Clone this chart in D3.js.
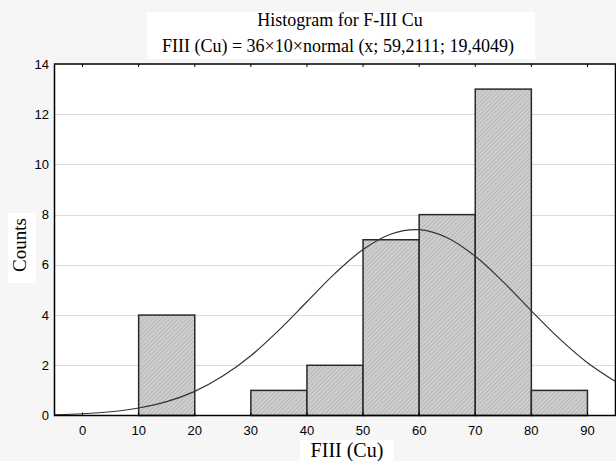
<!DOCTYPE html>
<html lang="en">
<head>
<meta charset="UTF-8">
<title>Histogram for F-III Cu</title>
<style>
body { margin: 0; background: #f6f6f6; }
.tick-label { font-family: 'Liberation Sans', Arial, sans-serif; font-size: 13px; fill: #000; }
.serif { font-family: 'Liberation Serif', 'Times New Roman', serif; fill: #000; }
</style>
</head>
<body>
<div id="vis"></div>
<script src="https://d3js.org/d3.v7.min.js"></script>
<script>
// bins (lower edge) and counts
const binStarts = [10, 20, 30, 40, 50, 60, 70, 80];
const counts = [4, 0, 1, 2, 7, 8, 13, 1];
const binWidth = 10;

// fitted normal curve, read at every 5 units
const fitX = [-5, 0, 5, 10, 15, 20, 25, 30, 35, 40, 45, 50, 55, 60, 65, 70, 75, 80, 85, 90, 95];
const fitY = [0.03, 0.07, 0.15, 0.30, 0.55, 0.96, 1.57, 2.38, 3.40, 4.53, 5.66, 6.61, 7.23, 7.40, 7.08, 6.34, 5.32, 4.17, 3.06, 2.10, 1.35];

const xTicks = [0, 10, 20, 30, 40, 50, 60, 70, 80, 90];
const yTicks = [0, 2, 4, 6, 8, 10, 12, 14];

const title1 = "Histogram for F-III Cu";
const title2 = "FIII (Cu) = 36\u00d710\u00d7normal (x; 59,2111; 19,4049)";
const xTitle = "FIII (Cu)";
const yTitle = "Counts";

const width = 616, height = 461;
const pLeft = 54.5, pRight = 615.5, pTop = 64, pBottom = 415.5;

const svg = d3.select("#vis").append("svg")
  .attr("width", width)
  .attr("height", height);

const x = d3.scaleLinear().domain([-5, 95]).range([pLeft, pRight]);
const y = d3.scaleLinear().domain([0, 14]).range([pBottom, pTop]);

// hatch pattern
const defs = svg.append("defs");
const pat = defs.append("pattern")
  .attr("id", "hatch")
  .attr("patternUnits", "userSpaceOnUse")
  .attr("width", 3).attr("height", 3)
  .attr("patternTransform", "rotate(45)");
pat.append("rect").attr("width", 3).attr("height", 3).attr("fill", "#cfcfcf");
pat.append("line").attr("x1", 0).attr("y1", 0).attr("x2", 0).attr("y2", 3)
  .attr("stroke", "#a0a0a0").attr("stroke-width", 1);

// white boxes behind texts
svg.append("rect").attr("x", 147).attr("y", 12).attr("width", 388).attr("height", 47).attr("fill", "#fff");
svg.append("rect").attr("x", pLeft).attr("y", pTop).attr("width", pRight - pLeft).attr("height", pBottom - pTop).attr("fill", "#fff");

// gridlines
svg.append("g").selectAll("line")
  .data(yTicks.filter(d => d > 0 && d < 14))
  .enter().append("line")
  .attr("x1", pLeft).attr("x2", pRight)
  .attr("y1", d => Math.round(y(d)) + 0.5).attr("y2", d => Math.round(y(d)) + 0.5)
  .attr("stroke", "#b4b4b4")
  .attr("stroke-dasharray", "1,1");

// bars
svg.append("g").selectAll("rect")
  .data(binStarts.map((b, i) => ({ b: b, c: counts[i] })).filter(d => d.c > 0))
  .enter().append("rect")
  .attr("x", d => x(d.b))
  .attr("y", d => y(d.c))
  .attr("width", d => x(d.b + binWidth) - x(d.b))
  .attr("height", d => y(0) - y(d.c))
  .attr("fill", "url(#hatch)")
  .attr("stroke", "#2a2a2a")
  .attr("stroke-width", 1.5);

// fitted curve
const clip = defs.append("clipPath").attr("id", "plotclip");
clip.append("rect").attr("x", pLeft).attr("y", pTop).attr("width", pRight - pLeft).attr("height", pBottom - pTop);
svg.append("path")
  .datum(fitX.map((v, i) => [v, fitY[i]]))
  .attr("clip-path", "url(#plotclip)")
  .attr("d", d3.line().x(d => x(d[0])).y(d => y(d[1])).curve(d3.curveCatmullRom))
  .attr("fill", "none")
  .attr("stroke", "#333")
  .attr("stroke-width", 1.2);

// frame
svg.append("rect")
  .attr("x", pLeft).attr("y", pTop)
  .attr("width", pRight - pLeft).attr("height", pBottom - pTop)
  .attr("fill", "none").attr("stroke", "#000").attr("stroke-width", 1.5);

// x axis ticks (inside, bottom and top)
svg.append("g").selectAll("line.b")
  .data(xTicks).enter().append("line")
  .attr("x1", d => x(d)).attr("x2", d => x(d))
  .attr("y1", pBottom).attr("y2", pBottom - 3)
  .attr("stroke", "#000");
svg.append("g").selectAll("line.t")
  .data(xTicks).enter().append("line")
  .attr("x1", d => x(d)).attr("x2", d => x(d))
  .attr("y1", pTop).attr("y2", pTop + 3)
  .attr("stroke", "#000");

svg.append("g").selectAll("text")
  .data(xTicks).enter().append("text")
  .attr("class", "tick-label")
  .attr("x", d => x(d))
  .attr("y", 435)
  .attr("text-anchor", "middle")
  .text(d => d);

// y axis labels
svg.append("g").selectAll("text")
  .data(yTicks).enter().append("text")
  .attr("class", "tick-label")
  .attr("x", 49)
  .attr("y", d => y(d) + 4.5)
  .attr("text-anchor", "end")
  .text(d => d);

// titles
svg.append("text").attr("class", "serif")
  .attr("x", 340).attr("y", 26)
  .attr("text-anchor", "middle")
  .style("font-size", "18px")
  .text(title1);
svg.append("text").attr("class", "serif")
  .attr("x", 338).attr("y", 52)
  .attr("text-anchor", "middle")
  .style("font-size", "18px")
  .text(title2);

svg.append("rect").attr("x", 300).attr("y", 440).attr("width", 94).attr("height", 21).attr("fill", "#fff");
svg.append("text").attr("class", "serif")
  .attr("x", 347).attr("y", 457)
  .attr("text-anchor", "middle")
  .style("font-size", "20px")
  .text(xTitle);

svg.append("rect").attr("x", 8).attr("y", 213).attr("width", 28).attr("height", 70).attr("fill", "#fff");
svg.append("text").attr("class", "serif")
  .attr("transform", "translate(25.5,245) rotate(-90)")
  .attr("text-anchor", "middle")
  .style("font-size", "19px")
  .text(yTitle);
</script>
</body>
</html>
